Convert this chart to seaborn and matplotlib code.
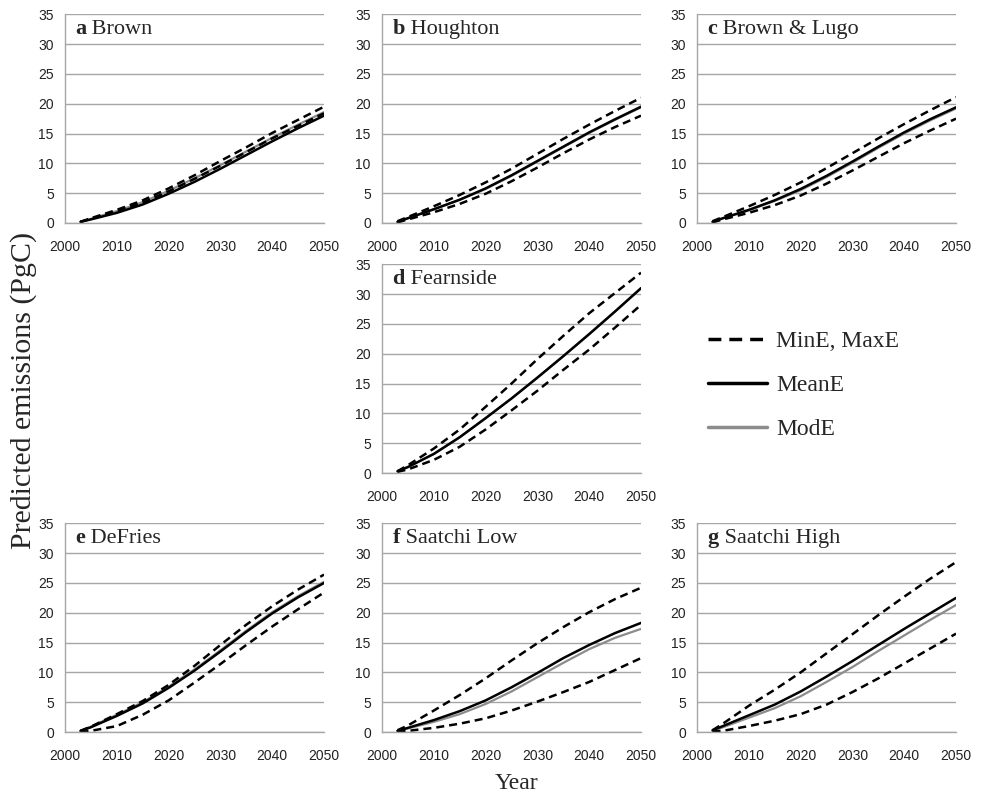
import numpy as np
import pandas as pd
import matplotlib
matplotlib.use('Agg')
import matplotlib.pyplot as plt
from matplotlib.lines import Line2D
import seaborn as sns

anos = [2003, 2005, 2010, 2015, 2020, 2025, 2030, 2035, 2040, 2045, 2050]

# valores (PgC acumulado)
brown_mean = [0.2, 0.6, 1.7, 3.1, 4.9, 6.9, 9.1, 11.4, 13.7, 15.9, 18.0]
brown_max = [0.2, 0.8, 2.2, 3.8, 5.8, 8.0, 10.4, 12.7, 15.1, 17.3, 19.5]
brown_min = [0.2, 0.7, 1.9, 3.4, 5.3, 7.4, 9.6, 11.9, 14.2, 16.3, 18.4]
brown_mode = [0.2, 0.7, 2.0, 3.5, 5.4, 7.5, 9.7, 12.0, 14.3, 16.5, 18.6]

houghton_mean = [0.2, 0.8, 2.3, 3.9, 5.8, 8.0, 10.4, 12.8, 15.2, 17.4, 19.5]
houghton_max = [0.3, 1.0, 2.8, 4.7, 6.8, 9.1, 11.6, 14.1, 16.5, 18.8, 21.0]
houghton_min = [0.1, 0.6, 1.8, 3.2, 4.9, 7.0, 9.3, 11.7, 14.0, 16.1, 18.0]
houghton_mode = [0.2, 0.8, 2.3, 3.9, 5.7, 7.9, 10.3, 12.7, 15.1, 17.3, 19.4]

lugo_mean = [0.2, 0.8, 2.2, 3.8, 5.7, 7.9, 10.3, 12.8, 15.2, 17.4, 19.4]
lugo_max = [0.3, 1.0, 2.8, 4.7, 6.8, 9.2, 11.7, 14.2, 16.6, 18.9, 21.1]
lugo_min = [0.1, 0.6, 1.7, 3.0, 4.6, 6.6, 8.8, 11.1, 13.4, 15.5, 17.5]
lugo_mode = [0.2, 0.8, 2.1, 3.7, 5.5, 7.7, 10.1, 12.6, 15.0, 17.2, 19.2]

fearnside_mean = [0.3, 1.0, 3.2, 6.0, 9.2, 12.5, 16.0, 19.6, 23.3, 27.1, 31.0]
fearnside_max = [0.3, 1.3, 4.1, 7.3, 11.1, 15.0, 19.1, 23.0, 26.8, 30.2, 33.6]
fearnside_min = [0.2, 0.6, 2.2, 4.4, 7.3, 10.5, 13.8, 17.3, 20.7, 24.4, 28.2]
fearnside_mode = [0.3, 1.0, 3.2, 6.0, 9.2, 12.5, 16.0, 19.6, 23.3, 27.1, 31.0]

defries_mean = [0.2, 0.8, 2.7, 4.8, 7.4, 10.3, 13.5, 16.8, 19.9, 22.6, 25.0]
defries_max = [0.2, 0.9, 3.0, 5.2, 7.9, 11.1, 14.6, 18.0, 21.1, 23.9, 26.4]
defries_min = [0.0, 0.2, 1.0, 2.9, 5.3, 8.3, 11.4, 14.6, 17.7, 20.6, 23.4]
defries_mode = [0.2, 0.9, 2.9, 5.0, 7.6, 10.5, 13.7, 17.0, 20.1, 22.8, 25.2]

slow_mean = [0.2, 0.7, 2.0, 3.5, 5.3, 7.5, 9.9, 12.4, 14.6, 16.6, 18.3]
slow_max = [0.3, 1.1, 3.6, 6.2, 9.0, 12.0, 14.9, 17.6, 20.1, 22.3, 24.2]
slow_min = [0.1, 0.2, 0.7, 1.4, 2.3, 3.6, 5.1, 6.7, 8.4, 10.4, 12.4]
slow_mode = [0.2, 0.6, 1.7, 3.0, 4.7, 6.8, 9.2, 11.6, 13.9, 15.8, 17.3]

shigh_mean = [0.3, 1.0, 2.8, 4.6, 6.8, 9.3, 11.9, 14.6, 17.3, 19.9, 22.5]
shigh_max = [0.3, 1.4, 4.4, 7.1, 10.0, 13.2, 16.4, 19.6, 22.7, 25.7, 28.5]
shigh_min = [0.1, 0.2, 1.0, 1.9, 3.0, 4.6, 6.7, 9.0, 11.5, 14.0, 16.5]
shigh_mode = [0.2, 0.8, 2.4, 4.0, 6.0, 8.4, 10.9, 13.6, 16.2, 18.8, 21.3]

paineis = [
    ('a', 'Brown', brown_mean, brown_max, brown_min, brown_mode),
    ('b', 'Houghton', houghton_mean, houghton_max, houghton_min, houghton_mode),
    ('c', 'Brown & Lugo', lugo_mean, lugo_max, lugo_min, lugo_mode),
    ('d', 'Fearnside', fearnside_mean, fearnside_max, fearnside_min, fearnside_mode),
    ('e', 'DeFries', defries_mean, defries_max, defries_min, defries_mode),
    ('f', 'Saatchi Low', slow_mean, slow_max, slow_min, slow_mode),
    ('g', 'Saatchi High', shigh_mean, shigh_max, shigh_min, shigh_mode),
]

sns.set_style('white')
plt.rcParams['font.family'] = ['Liberation Sans', 'DejaVu Sans']

fig = plt.figure(figsize=(9.86, 7.95), dpi=100)

cols = [0.0659, 0.3874, 0.7069]
rows = [0.7195, 0.4050, 0.0792]
larg = 0.2627
alt = 0.2625
posicoes = [(0, 0), (1, 0), (2, 0), (1, 1), (0, 2), (1, 2), (2, 2)]

serif = ['Liberation Serif', 'DejaVu Serif']
cinza = '#a6a6a6'
tracejado = (0, (3.2, 2))

for (letra, nome, media, maximo, minimo, moda), (c, r) in zip(paineis, posicoes):
    ax = fig.add_axes([cols[c], rows[r], larg, alt])
    sns.lineplot(x=anos, y=moda, ax=ax, color='#8c8c8c', linewidth=1.6)
    sns.lineplot(x=anos, y=maximo, ax=ax, color='black', linewidth=1.8, linestyle=tracejado)
    sns.lineplot(x=anos, y=minimo, ax=ax, color='black', linewidth=1.8, linestyle=tracejado)
    sns.lineplot(x=anos, y=media, ax=ax, color='black', linewidth=1.8)
    ax.set_xlim(2000, 2050)
    ax.set_ylim(0, 35)
    ax.set_xticks(range(2000, 2051, 10))
    ax.set_yticks(range(0, 36, 5))
    ax.yaxis.grid(True, color=cinza, linewidth=1.0)
    ax.set_axisbelow(True)
    for lado in ['top', 'right']:
        ax.spines[lado].set_visible(False)
    for lado in ['left', 'bottom']:
        ax.spines[lado].set_color(cinza)
        ax.spines[lado].set_linewidth(1.0)
    ax.tick_params(axis='x', direction='out', length=4, color=cinza, labelsize=10,
                   labelcolor='#222222', pad=8)
    ax.tick_params(axis='y', length=0, labelsize=10, labelcolor='#222222', pad=8)
    ax.set_xlabel('')
    ax.set_ylabel('')
    t = ax.text(0.04, 0.905, letra, transform=ax.transAxes, fontsize=16, fontweight='bold',
                family=serif, va='baseline', ha='left')
    ax.annotate(' ' + nome, xy=(1, 0), xycoords=t, fontsize=16, family=serif,
                va='bottom', ha='left')

fig.text(0.0235, 0.509, 'Predicted emissions (PgC)', rotation=90, fontsize=21.5,
         family=serif, va='center', ha='center')
fig.text(0.524, 0.014, 'Year', fontsize=17, family=serif, va='center', ha='center')

alcas = [
    Line2D([], [], color='black', linewidth=2.5, linestyle=(0, (3.7, 2.3))),
    Line2D([], [], color='black', linewidth=2.5),
    Line2D([], [], color='#8c8c8c', linewidth=2.5),
]
fig.legend(alcas, ['MinE, MaxE', 'MeanE', 'ModE'], loc='upper left',
           bbox_to_anchor=(0.718, 0.584), frameon=False, borderpad=0, borderaxespad=0,
           handlelength=2.5, handletextpad=0.4, labelspacing=0.95,
           prop={'family': 'Liberation Serif', 'size': 17})

fig.savefig('out.png', dpi=100)
